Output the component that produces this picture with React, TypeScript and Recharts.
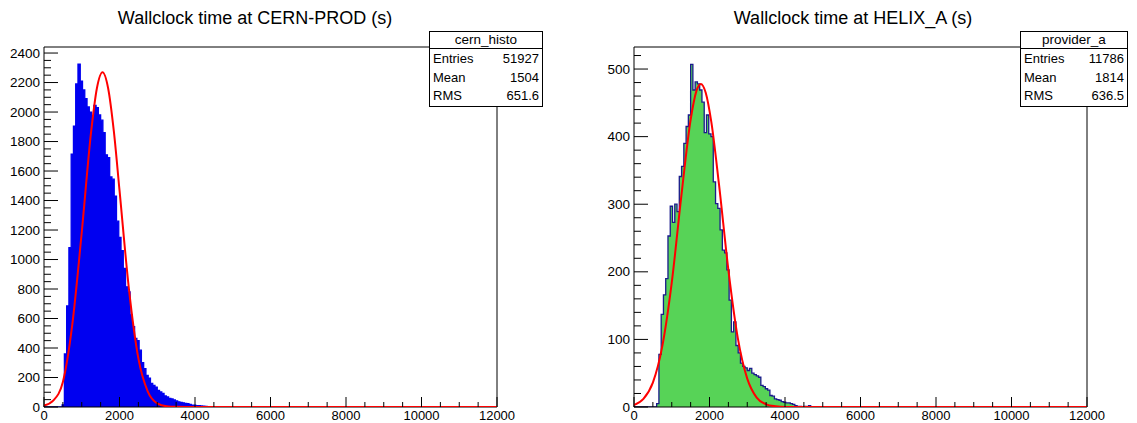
import React from 'react';
import { ComposedChart, Area, Line, XAxis, YAxis, ReferenceArea } from 'recharts';

// histogram binning (ROOT TH1: 200 bins over 0..12000 s)
const BIN_WIDTH = 60;
const X_MAX = 12000;

// CERN-PROD bin contents, starting at the 480 s bin
const cernFirstBin = 480;
const cernCounts = [
  15, 360, 685, 1080, 1715, 1905, 2190, 2325, 2210, 2150, 2090, 2035, 2000, 1960, 2045, 2030,
  1980, 1945, 1860, 1710, 1690, 1560, 1545, 1430, 1260, 1150, 1060, 940, 815, 780, 625, 545,
  465, 450, 385, 300, 260, 215, 195, 160, 147, 135, 113, 102, 92, 75, 68, 58, 55, 48, 41, 35,
  32, 28, 24, 22, 18, 12, 13, 9, 9, 7, 5, 4, 3, 2, 2, 1,
];

// HELIX_A bin contents, starting at the 600 s bin
const helixFirstBin = 600;
const helixCounts = [
  5, 78, 137, 166, 190, 253, 297, 273, 300, 289, 341, 356, 390, 415, 432, 507, 469, 481, 478,
  469, 451, 406, 432, 404, 400, 333, 301, 294, 262, 232, 228, 203, 158, 111, 126, 91, 80, 65,
  60, 58, 54, 57, 50, 48, 46, 44, 32, 30, 27, 25, 17, 16, 12, 11, 10, 8, 7, 6, 6, 5, 4, 2, 1,
  1, 0, 1, 0, 2,
];

// gaussian fit curves (red)
const cernFitX = [0, 250, 500, 750, 1000, 1250, 1400, 1550, 1700, 1850, 2000, 2250, 2500, 2750, 3000, 3250, 3500, 4000, 12000];
const cernFitY = [10, 45, 170, 560, 1185, 1870, 2160, 2270, 2160, 1870, 1470, 800, 330, 105, 25, 5, 1, 0, 0];

const helixFitX = [0, 250, 500, 750, 1000, 1250, 1500, 1650, 1770, 1900, 2050, 2250, 2500, 2750, 3000, 3250, 3500, 3750, 4000, 12000];
const helixFitY = [3, 12, 36, 90, 184, 310, 425, 467, 478, 465, 421, 330, 203, 102, 42, 14, 4, 1, 0, 0];

const xTicks = Array.from({ length: 25 }, (_, i) => i * 500);

const FONT = '"Liberation Sans", Arial, Helvetica, sans-serif';

function histRows(first: number, counts: number[]) {
  const rows: { x: number; y: number }[] = [];
  for (let x = 0; x <= X_MAX; x += BIN_WIDTH) {
    const idx = (x - first) / BIN_WIDTH;
    rows.push({ x, y: x < X_MAX && idx >= 0 && idx < counts.length ? counts[idx] : 0 });
  }
  return rows;
}

const zipRows = (xs: number[], ys: number[]) => xs.map((x, i) => ({ x, y: ys[i] }));

const XTick = (props: any) => {
  const { x, y, payload } = props;
  const major = payload.value % 2000 === 0;
  return (
    <g>
      <line x1={x} x2={x} y1={y} y2={y - (major ? 10 : 5)} stroke="#000" />
      {major && (
        <text x={x} y={y + 13} textAnchor="middle" fontSize={13} fontFamily={FONT} fill="#000">
          {payload.value}
        </text>
      )}
    </g>
  );
};

const makeYTick = (majorStep: number) => (props: any) => {
  const { x, y, payload } = props;
  const major = payload.value % majorStep === 0;
  return (
    <g>
      <line x1={x} x2={x + (major ? 14 : 7)} y1={y} y2={y} stroke="#000" />
      {major && (
        <text x={x - 4} y={y + 4.5} textAnchor="end" fontSize={13.5} fontFamily={FONT} fill="#000">
          {payload.value}
        </text>
      )}
    </g>
  );
};

interface PanelProps {
  left: number;
  width: number;
  yAxisWidth: number;
  marginRight: number;
  yMax: number;
  yTickStep: number;
  yMajorStep: number;
  hist: { x: number; y: number }[];
  fit: { x: number; y: number }[];
  fill: string;
  stroke: string;
}

const Panel = (p: PanelProps) => {
  const yTicks = Array.from({ length: Math.floor(p.yMax / p.yTickStep) + 1 }, (_, i) => i * p.yTickStep);
  return (
    <div style={{ position: 'absolute', left: p.left, top: 0 }}>
      <ComposedChart width={p.width} height={423} margin={{ top: 47, right: p.marginRight, bottom: 0, left: 0 }}>
        <XAxis
          dataKey="x"
          type="number"
          domain={[0, X_MAX]}
          ticks={xTicks}
          interval={0}
          height={16}
          axisLine={false}
          tickLine={false}
          tickSize={0}
          tickMargin={0}
          tick={<XTick />}
          allowDataOverflow
        />
        <YAxis
          type="number"
          domain={[0, p.yMax]}
          ticks={yTicks}
          interval={0}
          width={p.yAxisWidth}
          axisLine={false}
          tickLine={false}
          tickSize={0}
          tickMargin={0}
          tick={makeYTick(p.yMajorStep)}
          allowDataOverflow
        />
        <Area
          data={p.hist}
          dataKey="y"
          type="stepAfter"
          fill={p.fill}
          fillOpacity={1}
          stroke={p.stroke}
          strokeWidth={1.3}
          dot={false}
          activeDot={false}
          isAnimationActive={false}
        />
        <Line
          data={p.fit}
          dataKey="y"
          type="monotone"
          stroke="#ff0000"
          strokeWidth={2}
          dot={false}
          activeDot={false}
          isAnimationActive={false}
        />
        <ReferenceArea x1={0} x2={X_MAX} y1={0} y2={p.yMax} fill="none" stroke="#000" strokeWidth={1} ifOverflow="visible" />
      </ComposedChart>
    </div>
  );
};

const StatsBox = ({ left, width, name, entries, mean, rms }: any) => {
  const row = { display: 'flex', justifyContent: 'space-between', height: 18.5, lineHeight: '18.5px', padding: '0 3px 0 3px' };
  return (
    <div
      style={{
        position: 'absolute',
        left,
        top: 31,
        width,
        background: '#fff',
        border: '1px solid #000',
        fontFamily: FONT,
        fontSize: 13,
        color: '#000',
        boxSizing: 'border-box',
      }}
    >
      <div style={{ textAlign: 'center', height: 16, lineHeight: '16px', fontSize: 13.5, borderBottom: '1px solid #000' }}>{name}</div>
      <div style={{ paddingTop: 1 }}>
        <div style={row}><span>Entries</span><span>{entries}</span></div>
        <div style={row}><span>Mean</span><span>{mean}</span></div>
        <div style={row}><span>RMS</span><span>{rms}</span></div>
      </div>
    </div>
  );
};

const Title = ({ center, text }: { center: number; text: string }) => (
  <div
    style={{
      position: 'absolute',
      left: center - 250,
      width: 500,
      top: 7,
      textAlign: 'center',
      fontFamily: FONT,
      fontSize: 18,
      lineHeight: '22px',
      color: '#000',
    }}
  >
    {text}
  </div>
);

export default function App() {
  return (
    <div style={{ position: 'fixed', left: 0, top: 0, width: 1137, height: 423, background: '#fff', overflow: 'hidden' }}>
      <Panel
        left={0}
        width={568}
        yAxisWidth={44}
        marginRight={71}
        yMax={2441}
        yTickStep={50}
        yMajorStep={200}
        hist={histRows(cernFirstBin, cernCounts)}
        fit={zipRows(cernFitX, cernFitY)}
        fill="#0000f0"
        stroke="#0000f0"
      />
      <Panel
        left={568}
        width={569}
        yAxisWidth={66}
        marginRight={50}
        yMax={532.6}
        yTickStep={20}
        yMajorStep={100}
        hist={histRows(helixFirstBin, helixCounts)}
        fit={zipRows(helixFitX, helixFitY)}
        fill="#57d357"
        stroke="#1a1a8c"
      />
      <Title center={255} text="Wallclock time at CERN-PROD (s)" />
      <Title center={853} text="Wallclock time at HELIX_A (s)" />
      <StatsBox left={429} width={114} name="cern_histo" entries="51927" mean="1504" rms="651.6" />
      <StatsBox left={1020} width={108} name="provider_a" entries="11786" mean="1814" rms="636.5" />
    </div>
  );
}
